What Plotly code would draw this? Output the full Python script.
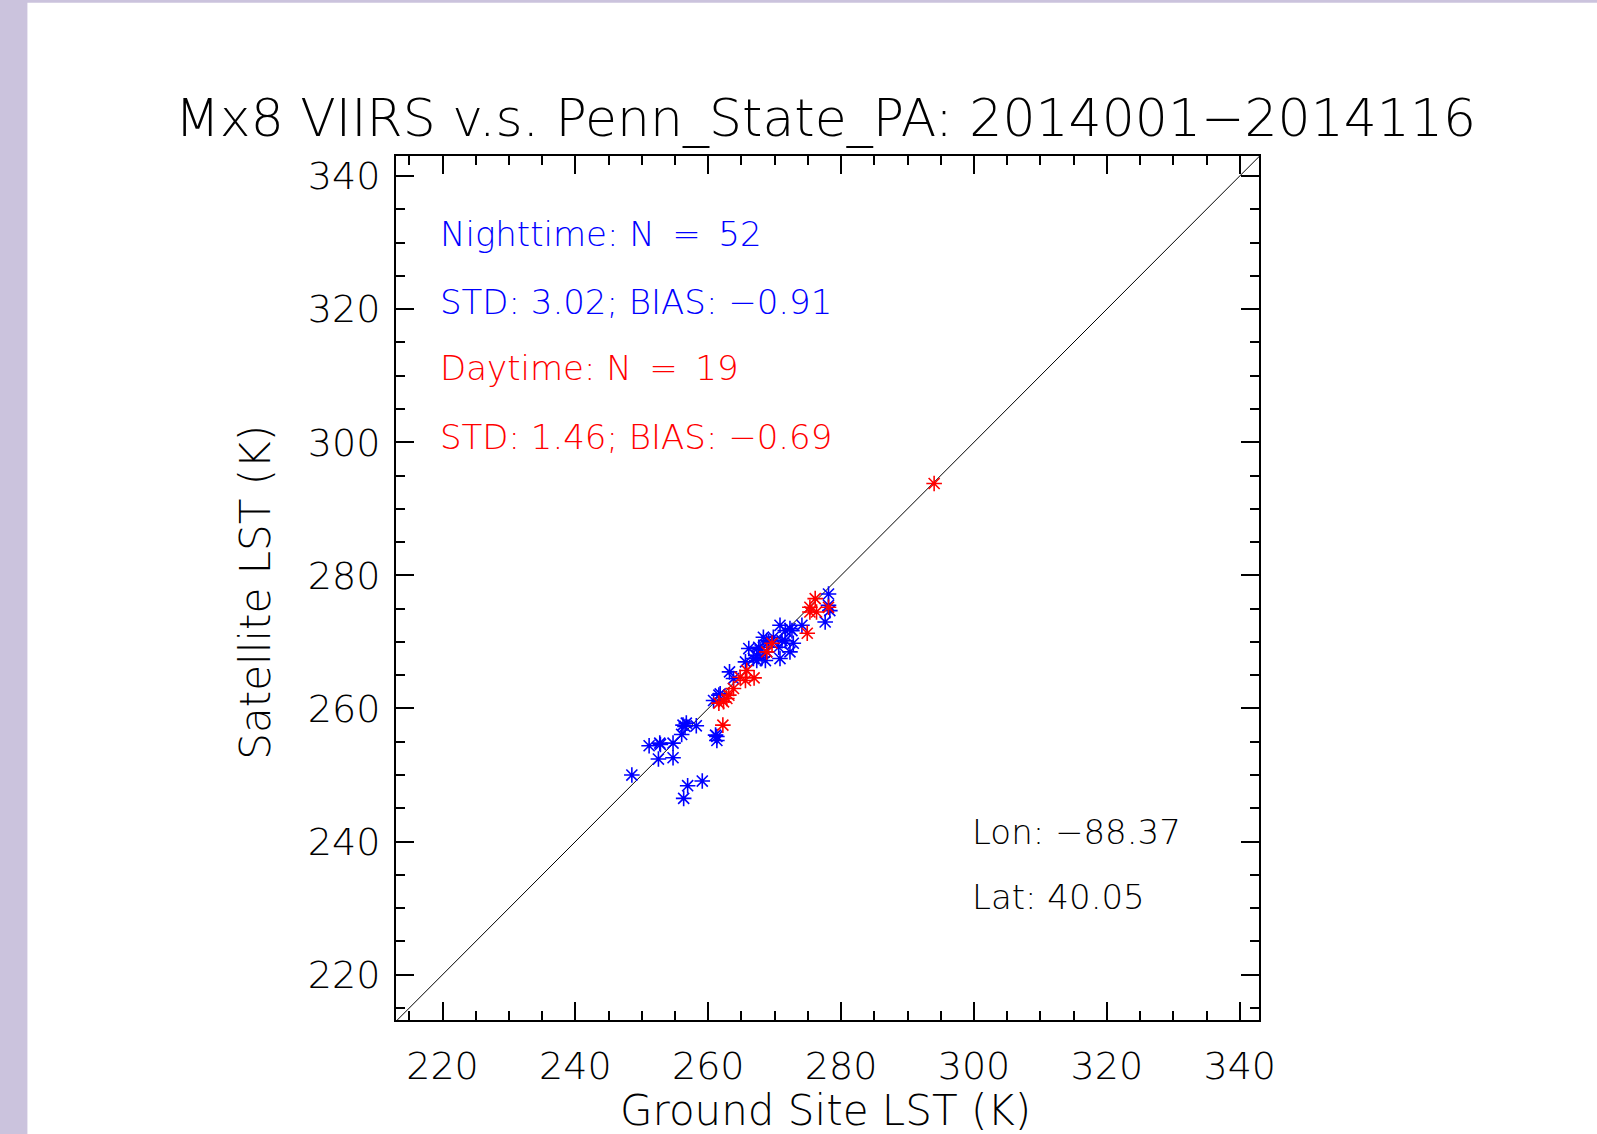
import plotly.graph_objects as go

# ---- data ----
night_ground = [248.5, 256.3, 256.9, 259.1, 251.1, 252.7, 254.7, 252.5, 254.7, 256.2,
                256.7, 258.2, 256.0, 261.1, 261.3, 260.8, 261.6, 263.2, 263.8, 265.6,
                266.1, 266.8, 267.3, 268.6, 268.3, 269.1, 268.8, 270.6, 270.8, 270.8,
                272.3, 271.6, 272.8, 272.3, 274.1, 277.6, 278.1, 278.3, 267.6, 269.8,
                256.5, 261.3, 261.8, 267.3, 267.8, 268.1, 268.8, 271.6, 272.6, 271.1,
                278.1, 252.8]
night_sat = [250.0, 246.5, 248.4, 249.1, 254.4, 254.8, 254.8, 252.4, 252.6, 257.5,
             257.8, 257.4, 256.1, 256.0, 255.2, 261.2, 262.0, 265.5, 264.5, 267.0,
             269.0, 267.5, 268.0, 267.2, 270.7, 270.0, 268.5, 269.2, 267.5, 272.5,
             272.0, 270.2, 269.8, 268.5, 272.5, 273.0, 277.2, 274.7, 269.2, 270.7,
             257.3, 255.8, 262.2, 267.2, 268.8, 267.7, 270.2, 271.7, 271.7, 270.2,
             275.5, 254.6]

day_ground = [276.1, 275.3, 276.3, 278.1, 274.9, 269.6, 268.8, 265.8, 264.8, 266.9,
              265.6, 263.8, 263.1, 261.6, 262.3, 262.2, 294.0, 275.3, 262.8]
day_sat = [276.5, 274.5, 274.5, 275.2, 271.3, 269.8, 268.5, 265.7, 264.7, 264.6,
           264.2, 263.0, 262.0, 260.8, 261.0, 257.5, 293.8, 275.2, 261.5]

one_to_one = [200, 350]

x_range = [213.0, 342.9]
y_range = [213.2, 343.0]

SP = "\u00a0\u2009"
title_text = "Mx8 VIIRS v.s. Penn_State_PA: 2014001\u22122014116"
night_lines = ["Nighttime: N" + SP + "=" + SP + "52", "STD: 3.02; BIAS: \u22120.91"]
day_lines = ["Daytime: N" + SP + "=" + SP + "19", "STD: 1.46; BIAS: \u22120.69"]
site_lines = ["Lon: \u221288.37", "Lat: 40.05"]

FONT = "DejaVu Sans"
WEIGHT = 200
BLUE = "rgb(0,0,255)"
RED = "rgb(255,0,0)"
LAVENDER = "rgb(203,195,221)"


def fnt(size, color="black"):
    return dict(family=FONT, size=size, color=color, weight=WEIGHT)


fig = go.Figure()
fig.add_trace(go.Scatter(x=one_to_one, y=one_to_one, mode="lines",
                         line=dict(color="black", width=1), showlegend=False,
                         hoverinfo="skip"))
fig.add_trace(go.Scatter(x=night_ground, y=night_sat, mode="markers",
                         marker=dict(symbol="asterisk-open", size=13, color=BLUE,
                                     line=dict(color=BLUE, width=1.6)),
                         showlegend=False))
fig.add_trace(go.Scatter(x=day_ground, y=day_sat, mode="markers",
                         marker=dict(symbol="asterisk-open", size=13, color=RED,
                                     line=dict(color=RED, width=1.6)),
                         showlegend=False))

axis_common = dict(
    showgrid=False, zeroline=False, showline=True, linecolor="black", linewidth=2,
    mirror="ticks", ticks="inside", ticklen=18, tickwidth=1.5, tickcolor="black",
    dtick=20, tick0=220, tickfont=fnt(38),
    minor=dict(ticks="inside", ticklen=9, tickwidth=1.5, tickcolor="black", dtick=5),
)
fig.update_xaxes(range=x_range, ticklabelstandoff=11, **axis_common)
fig.update_yaxes(range=y_range, ticklabelstandoff=6, **axis_common)

annotations = []
annotations.append(dict(text=title_text, x=0.4973, y=1.0443, xref="paper", yref="paper",
                        xanchor="center", yanchor="middle", showarrow=False,
                        font=fnt(52)))
annotations.append(dict(text="Ground Site LST (K)", x=0.4973, y=-0.1053, xref="paper",
                        yref="paper", xanchor="center", yanchor="middle", showarrow=False,
                        font=fnt(42)))
annotations.append(dict(text="Satellite LST (K)", x=-0.163, y=0.495, xref="paper",
                        yref="paper", xanchor="center", yanchor="middle", showarrow=False,
                        textangle=-90, font=fnt(42)))
text_rows = [(night_lines[0], BLUE, 0.9097), (night_lines[1], BLUE, 0.831),
             (day_lines[0], RED, 0.7546), (day_lines[1], RED, 0.6748)]
for txt, col, yy in text_rows:
    annotations.append(dict(text=txt, x=0.049, y=yy, xref="paper", yref="paper",
                            xanchor="left", yanchor="middle", showarrow=False,
                            font=fnt(34, col)))
for txt, yy in zip(site_lines, [0.2176, 0.1424]):
    annotations.append(dict(text=txt, x=0.665, y=yy, xref="paper", yref="paper",
                            xanchor="left", yanchor="middle", showarrow=False,
                            font=fnt(34)))

fig.update_layout(
    width=1597, height=1134,
    margin=dict(l=396, r=338, t=156, b=114),
    paper_bgcolor=LAVENDER, plot_bgcolor="white",
    annotations=annotations,
    shapes=[dict(type="rect", xref="paper", yref="paper", layer="below",
                 x0=-0.4271, x1=1.5, y0=-0.3, y1=1.1775,
                 fillcolor="white", line=dict(width=0))],
    showlegend=False,
)

fig.write_html("out.html", config={"displayModeBar": False},
               post_script="document.body.style.margin='0';document.body.style.overflow='hidden';")
